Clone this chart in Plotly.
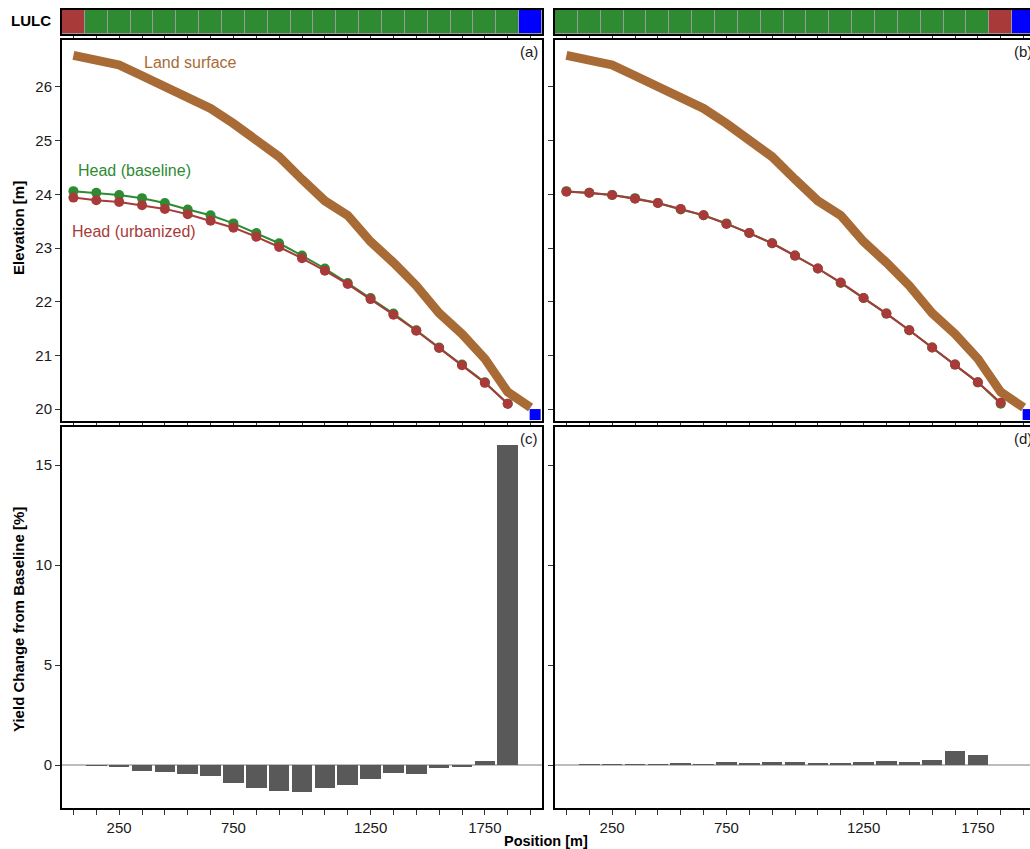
import plotly.graph_objects as go

# ---------------- data ----------------
positions = list(range(21))  # model cell index along the transect
x_tick_labels = ["", "", "250", "", "", "", "", "750", "", "", "", "", "",
                 "1250", "", "", "", "", "1750", "", ""]

lulc_a = ["Urban"] + ["Vegetation"] * 19 + ["Water"]
lulc_b = ["Vegetation"] * 19 + ["Urban", "Water"]
lulc_colors = {"Urban": "#a83a3a", "Vegetation": "#2e8b32", "Water": "#0000ff"}

land_surface = [26.59, 26.50, 26.41, 26.21, 26.00, 25.80, 25.60, 25.32, 25.02, 24.70,
                24.28, 23.88, 23.61, 23.12, 22.73, 22.30, 21.79, 21.40, 20.94, 20.32, 20.03]

head_baseline = [24.06, 24.03, 23.99, 23.93, 23.84, 23.72, 23.61, 23.46, 23.28, 23.09,
                 22.86, 22.62, 22.35, 22.07, 21.78, 21.47, 21.15, 20.83, 20.50, 20.10]
head_urban_a = [23.94, 23.89, 23.86, 23.80, 23.73, 23.63, 23.51, 23.38, 23.21, 23.02,
                22.81, 22.58, 22.33, 22.05, 21.76, 21.46, 21.14, 20.82, 20.49, 20.10]
head_urban_b = [24.05, 24.03, 23.99, 23.92, 23.84, 23.73, 23.61, 23.45, 23.28, 23.09,
                22.86, 22.62, 22.36, 22.07, 21.78, 21.47, 21.15, 20.83, 20.50, 20.12]

river_position = [20.2]
river_stage = [19.9]

yield_a = [0, -0.05, -0.08, -0.28, -0.35, -0.45, -0.53, -0.90, -1.13, -1.28, -1.35,
           -1.13, -0.98, -0.68, -0.38, -0.43, -0.13, -0.07, 0.20, 16.0, None]
yield_b = [0, 0.05, 0.02, 0.02, 0.02, 0.10, 0.02, 0.15, 0.07, 0.15, 0.15,
           0.10, 0.10, 0.15, 0.20, 0.15, 0.25, 0.70, 0.50, None, None]

# ---------------- style ----------------
W, H = 1030, 849
FONT = "Liberation Sans, Arial, Helvetica, sans-serif"
C_LAND = "#a86b36"
C_BASE = "#2e8b32"
C_URB = "#a83a3a"
C_BAR = "#595959"
TXT = "#1a1a1a"


def px_x(a, b):
    return [a / W, b / W]


def px_y(top, bottom):
    return [1 - bottom / H, 1 - top / H]


left_dom = px_x(62, 542)
right_dom = px_x(555, 1030)
right_xmax = -0.5 + (1030 - 555) / (480 / 21)

strip_dom = px_y(10, 34)
top_dom = px_y(40, 421)
bot_dom = px_y(427, 808)

fig = go.Figure()

# LULC strips
for lulc, xa, ya in [(lulc_a, "x", "y"), (lulc_b, "x4", "y4")]:
    fig.add_trace(go.Bar(
        x=positions, y=[1] * len(positions), width=1,
        marker=dict(color=[lulc_colors[c] for c in lulc],
                    line=dict(color="#9a9a9a", width=1)),
        xaxis=xa, yaxis=ya, showlegend=False, hoverinfo="skip"))

# elevation panels
for urb, xa, ya in [(head_urban_a, "x2", "y2"), (head_urban_b, "x5", "y5")]:
    fig.add_trace(go.Scatter(x=positions, y=land_surface, mode="lines",
                             line=dict(color=C_LAND, width=9),
                             xaxis=xa, yaxis=ya, showlegend=False))
    fig.add_trace(go.Scatter(x=positions[:len(head_baseline)], y=head_baseline,
                             mode="lines+markers",
                             line=dict(color=C_BASE, width=2),
                             marker=dict(color=C_BASE, size=10),
                             xaxis=xa, yaxis=ya, showlegend=False))
    fig.add_trace(go.Scatter(x=positions[:len(urb)], y=urb,
                             mode="lines+markers",
                             line=dict(color=C_URB, width=2),
                             marker=dict(color=C_URB, size=10),
                             xaxis=xa, yaxis=ya, showlegend=False))
    fig.add_trace(go.Scatter(x=river_position, y=river_stage, mode="markers",
                             marker=dict(symbol="square", color="#0000ff", size=11,
                                         line=dict(width=0)),
                             xaxis=xa, yaxis=ya, showlegend=False))

# yield panels
for vals, xa, ya in [(yield_a, "x3", "y3"), (yield_b, "x6", "y6")]:
    fig.add_trace(go.Bar(x=positions, y=vals, width=0.9,
                         marker=dict(color=C_BAR, line=dict(width=0)),
                         xaxis=xa, yaxis=ya, showlegend=False))

tickfont = dict(family=FONT, size=15, color=TXT)
common = dict(showgrid=False, zeroline=False, showline=True, linecolor="black",
              linewidth=2, ticks="outside", tickcolor="#333333", tickwidth=1,
              tickfont=tickfont, fixedrange=True)

layout = dict(
    width=W, height=H, margin=dict(l=0, r=0, t=0, b=0),
    paper_bgcolor="white", plot_bgcolor="white",
    bargap=0, showlegend=False, font=dict(family=FONT, color=TXT),
)

# left column
layout["xaxis"] = dict(common, domain=left_dom, anchor="y", range=[-0.5, 20.5],
                       tickvals=positions, showticklabels=False, ticklen=3, mirror=True)
layout["yaxis"] = dict(common, domain=strip_dom, anchor="x", range=[0, 1],
                       ticks="", showticklabels=False, mirror=True)
layout["xaxis2"] = dict(common, domain=left_dom, anchor="y2", range=[-0.5, 20.5],
                        tickvals=positions, showticklabels=False, ticklen=4, mirror=True)
layout["yaxis2"] = dict(common, domain=top_dom, anchor="x2", range=[19.78, 26.875],
                        tickvals=[20, 21, 22, 23, 24, 25, 26], ticklen=5, mirror=True)
layout["xaxis3"] = dict(common, domain=left_dom, anchor="y3", range=[-0.5, 20.5],
                        tickvals=positions, ticktext=x_tick_labels, ticklen=5, mirror=True)
layout["yaxis3"] = dict(common, domain=bot_dom, anchor="x3", range=[-2.15, 16.9],
                        tickvals=[0, 5, 10, 15], ticklen=5, mirror=True,
                        zeroline=True, zerolinecolor="#bdbdbd", zerolinewidth=2)
# right column (cut at the window edge)
layout["xaxis4"] = dict(common, domain=right_dom, anchor="y4", range=[-0.5, right_xmax],
                        tickvals=positions, showticklabels=False, ticklen=3, mirror=True)
layout["yaxis4"] = dict(common, domain=strip_dom, anchor="x4", range=[0, 1],
                        ticks="", showticklabels=False)
layout["xaxis5"] = dict(common, domain=right_dom, anchor="y5", range=[-0.5, right_xmax],
                        tickvals=positions, showticklabels=False, ticklen=4, mirror=True)
layout["yaxis5"] = dict(common, domain=top_dom, anchor="x5", range=[19.78, 26.875],
                        tickvals=[20, 21, 22, 23, 24, 25, 26], ticklen=5,
                        showticklabels=False)
layout["xaxis6"] = dict(common, domain=right_dom, anchor="y6", range=[-0.5, right_xmax],
                        tickvals=positions, ticktext=x_tick_labels, ticklen=5, mirror=True)
layout["yaxis6"] = dict(common, domain=bot_dom, anchor="x6", range=[-2.15, 16.9],
                        tickvals=[0, 5, 10, 15], ticklen=5, showticklabels=False,
                        zeroline=True, zerolinecolor="#bdbdbd", zerolinewidth=2)

fig.update_layout(**layout)

ann = []
lab_font = dict(family=FONT, size=16)
ann.append(dict(text="Land surface", x=5.1, y=26.46, xref="x2", yref="y2",
                showarrow=False, font=dict(lab_font, color=C_LAND)))
ann.append(dict(text="Head (baseline)", x=2.67, y=24.45, xref="x2", yref="y2",
                showarrow=False, font=dict(lab_font, color=C_BASE)))
ann.append(dict(text="Head (urbanized)", x=2.67, y=23.31, xref="x2", yref="y2",
                showarrow=False, font=dict(lab_font, color=C_URB)))

for lab, xr, yr, shift in [("(a)", "x2", "y2", -2), ("(b)", "x5", "y5", 4),
                           ("(c)", "x3", "y3", -2), ("(d)", "x6", "y6", 4)]:
    ann.append(dict(text=lab, x=1, y=1, xref=f"{xr} domain", yref=f"{yr} domain",
                    xanchor="right", yanchor="top", xshift=shift, yshift=-1,
                    showarrow=False, font=dict(family=FONT, size=15, color=TXT)))

bold = dict(family=FONT, size=15, color="black")
ann.append(dict(text="<b>LULC</b>", x=53 / W, y=1 - 21 / H, xref="paper", yref="paper",
                xanchor="right", yanchor="middle", showarrow=False, font=bold))
ann.append(dict(text="<b>Position [m]</b>", x=546 / W, y=1 - 841 / H, xref="paper",
                yref="paper", xanchor="center", yanchor="middle", showarrow=False,
                font=dict(bold, size=14.5)))
ann.append(dict(text="<b>Elevation [m]</b>", x=18 / W, y=1 - 228 / H, xref="paper",
                yref="paper", xanchor="center", yanchor="middle", textangle=-90,
                showarrow=False, font=bold))
ann.append(dict(text="<b>Yield Change from Baseline [%]</b>", x=18 / W, y=1 - 620 / H,
                xref="paper", yref="paper", xanchor="center", yanchor="middle",
                textangle=-90, showarrow=False, font=bold))
fig.update_layout(annotations=ann)

fig.write_html("out.html", config={"displayModeBar": False},
               post_script="document.body.style.margin='0';"
                           "document.body.style.overflow='hidden';")
